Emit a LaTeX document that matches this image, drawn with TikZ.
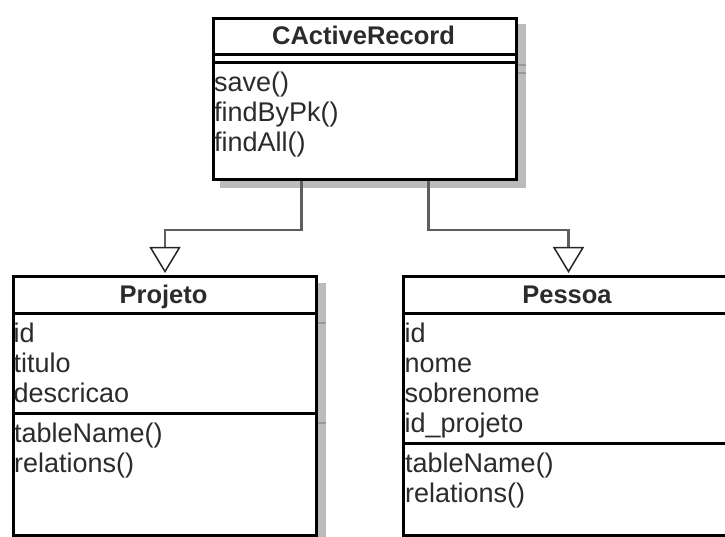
\documentclass[tikz,border=0pt]{standalone}
\usepackage{fontspec}
\setmainfont{Liberation Sans}
\usetikzlibrary{arrows.meta}
\definecolor{ink}{HTML}{2B2B2B}
\definecolor{shade}{HTML}{BBBBBB}
\definecolor{shadeline}{HTML}{999999}
\definecolor{wire}{HTML}{5E5E5E}
\begin{document}
\begin{tikzpicture}[x=1pt,y=-1pt,
  classbox/.style={draw=black, line width=3pt, fill=white, inner sep=0pt, anchor=north west},
  rule/.style={draw=black, line width=3pt},
  shadowfill/.style={fill=shade},
  shadowrule/.style={draw=shadeline, line width=1.5pt},
  title/.style={font=\bfseries\fontsize{25.5}{30}\selectfont, text=ink, anchor=base, inner sep=0pt},
  member/.style={font=\fontsize{27}{30}\selectfont, text=ink, anchor=base west, inner sep=0pt},
  conn/.style={draw=wire, line width=2.5pt, shorten >=2pt,
    -{Triangle[width=31pt,length=26pt,fill=white,color=black!85,line width=1.5pt]}},
]
\useasboundingbox (0,0) rectangle (725,537);

% drop shadows
\fill[shadowfill] (219.5,24.5) rectangle (525.5,188.5);
\draw[shadowrule] (221,65) -- (525.5,65);
\draw[shadowrule] (221,73) -- (525.5,73);
\fill[shadowfill] (19.5,282.5) rectangle (325.5,544.5);
\draw[shadowrule] (21,323) -- (325.5,323);
\draw[shadowrule] (21,423) -- (325.5,423);
\fill[shadowfill] (409.5,282.5) rectangle (741.5,544.5);

% class boxes
\node[classbox, minimum width=303pt, minimum height=161pt] (car) at (212,17) {};
\node[classbox, minimum width=303pt, minimum height=259pt] (proj) at (12,275) {};
\node[classbox, minimum width=330pt, minimum height=259pt] (pes) at (402,275) {};

% compartment separators
\draw[rule] (car.west |- 0,55) -- (car.east |- 0,55);
\draw[rule] (car.west |- 0,63) -- (car.east |- 0,63);
\draw[rule] (proj.west |- 0,313) -- (proj.east |- 0,313);
\draw[rule] (proj.west |- 0,413) -- (proj.east |- 0,413);
\draw[rule] (pes.west |- 0,313) -- (pes.east |- 0,313);
\draw[rule] (pes.west |- 0,443) -- (pes.east |- 0,443);

% CActiveRecord
\node[title] (carT) at (363.5,45) {CActiveRecord};
\node[member] (carM1) at (214,92) {save()};
\node[member] (carM2) at (214,122) {findByPk()};
\node[member] (carM3) at (214,152) {findAll()};

% Projeto
\node[title] (projT) at (163.5,303) {Projeto};
\node[member] (projA1) at (13.5,342) {id};
\node[member] (projA2) at (13.5,372) {titulo};
\node[member] (projA3) at (13.5,402) {descricao};
\node[member] (projM1) at (14,442) {tableName()};
\node[member] (projM2) at (14,472) {relations()};

% Pessoa
\node[title] (pesT) at (567,303) {Pessoa};
\node[member] (pesA1) at (404.5,342) {id};
\node[member] (pesA2) at (404.5,372) {nome};
\node[member] (pesA3) at (404.5,402) {sobrenome};
\node[member] (pesA4) at (404.5,432) {id\_projeto};
\node[member] (pesM1) at (405,472) {tableName()};
\node[member] (pesM2) at (405,502) {relations()};

% generalisation connectors
\coordinate (carL) at ([xshift=-63.5pt]car.south);
\coordinate (carR) at ([xshift=63.5pt]car.south);
\draw[conn] (carL) -- ++(0,49) -| (proj.north);
\draw[conn] (carR) -- ++(0,49) -| (pes.north);
\end{tikzpicture}
\end{document}
